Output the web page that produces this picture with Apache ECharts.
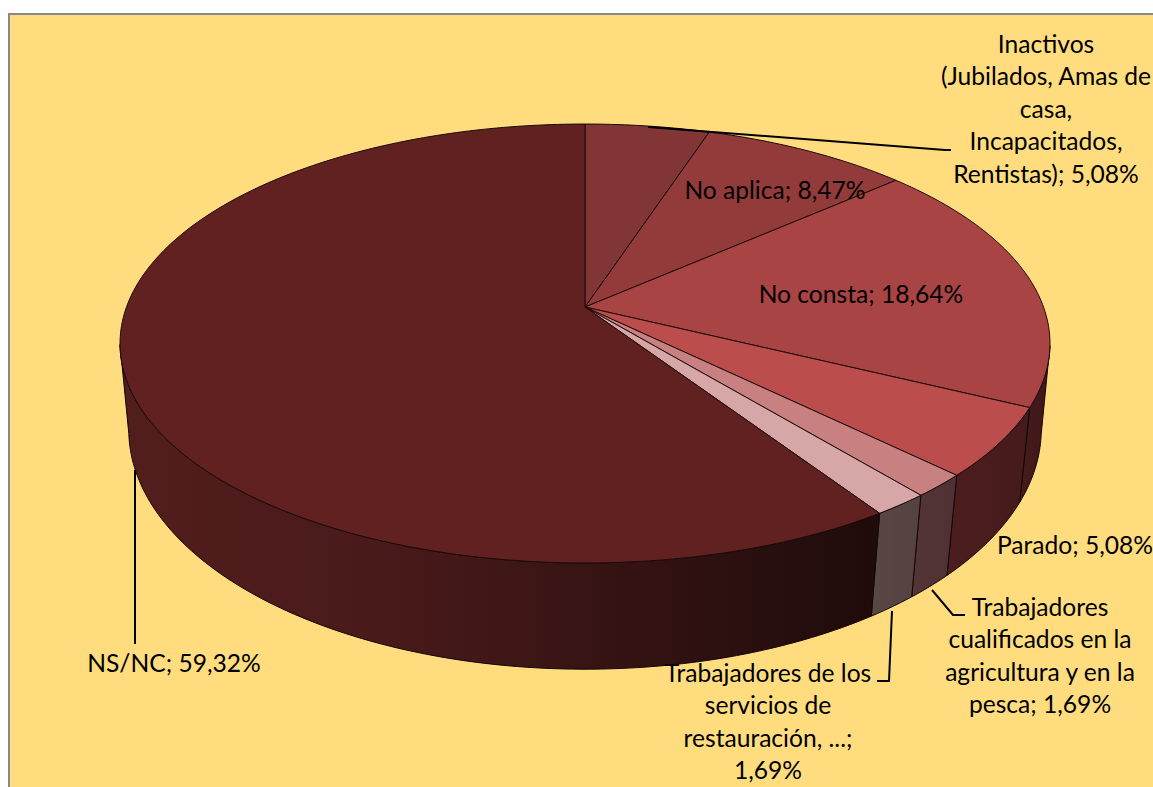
<!DOCTYPE html>
<html>
<head>
<meta charset="utf-8">
<style>html,body{margin:0;padding:0;background:#fff;overflow:hidden}#c{width:1153px;height:787px}</style>
<script src="https://cdn.jsdelivr.net/npm/echarts@6/dist/echarts.min.js"></script>
</head>
<body>
<div id="c"></div>
<script>
// DATA
var categories = [
  'Inactivos\n(Jubilados, Amas de\ncasa,\nIncapacitados,\nRentistas)',
  'No aplica',
  'No consta',
  'Parado',
  'Trabajadores\ncualificados en la\nagricultura y en la\npesca',
  'Trabajadores de los\nservicios de\nrestauración, ...',
  'NS/NC'
];
var shares = [5.08, 8.47, 18.64, 5.08, 1.69, 1.69, 59.32];
var valueBreaks = [' ', ' ', ' ', ' ', ' ', '\n', ' '];

// STYLE
var topColors = ['#823535', '#933b3b', '#a94444', '#bb4d4d', '#c98080', '#d7a7a7', '#622121'];
var wallColors = [
  ['#431919', '#431919'], ['#431919', '#431919'], ['#451a1c', '#401819'],
  ['#4c1d1f', '#451a1b'], ['#533437', '#4f3033'], ['#594745', '#544241'],
  ['#521d1d', '#1f0b0b']
];
var labelPos = [[1046, 108], [775, 189.5], [861, 293], [1075, 544], [1040, 655], [768, 721], [174, 662]];
var leaders = [
  [[648, 127], [945, 150], [951, 150]],
  null, null, null,
  [[932, 590], [953, 615], [965, 615]],
  [[892, 611], [889, 681], [877, 681]],
  [[135, 470], [135, 644]]
];
// Perspective of the two disc faces: [cx, cy, A, B, p]
var topFace = [585, 307, 458.5, 213.4, 0.1663];
var baseFace = [585, 392.6, 450.8, 234, 0.154];

function project(face, deg) {
  var t = deg * Math.PI / 180, u = Math.sin(t), v = -Math.cos(t), d = 1 - face[4] * v;
  return [face[0] + face[2] * u / d, face[1] + face[3] * v / d, v];
}
var total = shares.reduce(function (a, b) { return a + b; }, 0);
function angles(i) {
  var sum = 0;
  for (var k = 0; k < i; k++) sum += shares[k];
  return [sum / total * 360, (sum + shares[i]) / total * 360];
}
function arc(face, a, b) {
  var out = [], n = Math.max(2, Math.ceil((b - a) / 1));
  for (var k = 0; k <= n; k++) out.push(project(face, a + (b - a) * k / n));
  return out;
}
function wallItem(params) {
  var i = params.dataIndex, r = angles(i), top = [], base = [];
  var ta = arc(topFace, r[0], r[1]), ba = arc(baseFace, r[0], r[1]);
  for (var k = 0; k < ta.length; k++) {
    if (ta[k][2] >= 0.16) { top.push(ta[k].slice(0, 2)); base.push(ba[k].slice(0, 2)); }
  }
  if (top.length < 2) return null;
  var x0 = Math.min(top[0][0], top[top.length - 1][0], base[0][0], base[base.length - 1][0]);
  var x1 = Math.max(top[0][0], top[top.length - 1][0], base[0][0], base[base.length - 1][0]);
  return {
    type: 'polygon',
    shape: { points: top.concat(base.reverse()) },
    style: {
      fill: new echarts.graphic.LinearGradient(x0, 0, x1, 0, [
        { offset: 0, color: wallColors[i][0] },
        { offset: i === 6 ? 0.33 : 1, color: i === 6 ? '#4a1a1a' : wallColors[i][1] },
        { offset: 1, color: wallColors[i][1] }
      ], true),
      stroke: '#120606', lineWidth: 1, lineJoin: 'round'
    }
  };
}
function topItem(params) {
  var i = params.dataIndex, r = angles(i);
  var pts = [[topFace[0], topFace[1]]].concat(arc(topFace, r[0], r[1]).map(function (p) { return p.slice(0, 2); }));
  return {
    type: 'polygon',
    shape: { points: pts },
    style: { fill: topColors[i], stroke: '#1a0a0a', lineWidth: 1, lineJoin: 'round' }
  };
}
function labelItem(params) {
  var i = params.dataIndex, children = [];
  if (leaders[i]) children.push({
    type: 'polyline', shape: { points: leaders[i] },
    style: { fill: 'none', stroke: '#000', lineWidth: 2 }
  });
  children.push({
    type: 'text',
    style: {
      x: labelPos[i][0], y: labelPos[i][1],
      text: categories[i] + ';' + valueBreaks[i] + shares[i].toFixed(2).replace('.', ',') + '%',
      align: 'center', verticalAlign: 'middle',
      font: '24.6px Lato', lineHeight: 32.5, fill: '#000'
    }
  });
  return { type: 'group', children: children };
}
var chart = echarts.init(document.getElementById('c'), null, { renderer: 'svg', width: 1153, height: 787 });
chart.setOption({
  animation: false,
  backgroundColor: '#ffffff',
  graphic: [{
    type: 'rect', z: -10, silent: true,
    shape: { x: 9, y: 14, width: 1300, height: 900 },
    style: { fill: '#ffdd7f', stroke: '#888888', lineWidth: 2 }
  }],
  series: [
    { type: 'custom', coordinateSystem: 'none', z: 1, silent: true, data: shares, renderItem: wallItem },
    { type: 'custom', coordinateSystem: 'none', z: 2, silent: true, data: shares, renderItem: topItem },
    { type: 'custom', coordinateSystem: 'none', z: 3, silent: true, data: shares, renderItem: labelItem }
  ]
});
</script>
</body>
</html>
